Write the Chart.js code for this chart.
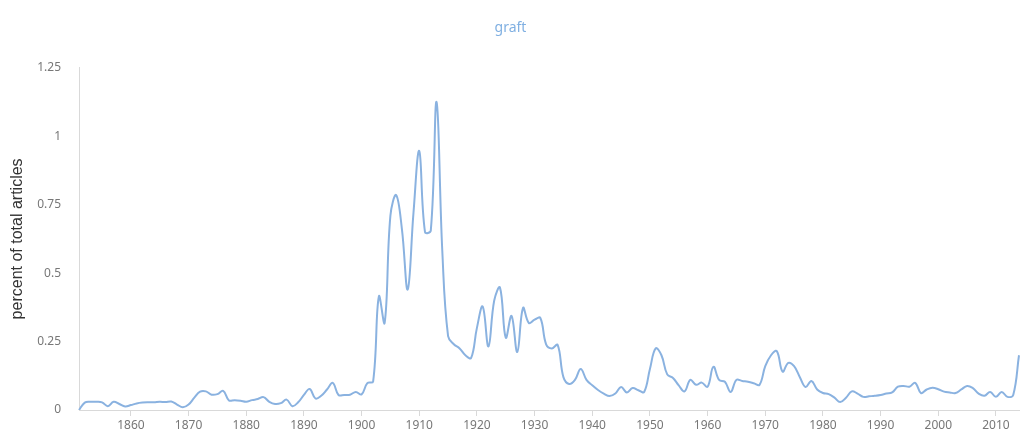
<!DOCTYPE html>
<html>
<head>
<meta charset="utf-8">
<script src="https://cdn.jsdelivr.net/npm/chart.js@4"></script>
<style>
  html, body { margin: 0; padding: 0; background: #fff; }
  #wrap { width: 1021px; height: 440px; }
</style>
</head>
<body>
<div id="wrap"><canvas id="chart"></canvas></div>
<script>
const firstYear = 1851;
const years = [];
for (let y = firstYear; y <= 2014; y++) years.push(y);

// percent of total articles, one value per year (1851-2014)
const graftValues = [
    0.000, 0.027, 0.030, 0.030, 0.028, 0.014, 0.030, 0.022, 0.013, 0.018,
    0.024, 0.027, 0.028, 0.028, 0.030, 0.029, 0.031, 0.020, 0.010, 0.020,
    0.045, 0.067, 0.068, 0.056, 0.058, 0.070, 0.035, 0.036, 0.034, 0.030,
    0.036, 0.040, 0.047, 0.030, 0.022, 0.025, 0.038, 0.014, 0.028, 0.055,
    0.077, 0.042, 0.052, 0.075, 0.099, 0.055, 0.055, 0.056, 0.066, 0.057,
    0.098, 0.104, 0.415, 0.318, 0.710, 0.785, 0.660, 0.440, 0.720, 0.946,
    0.650, 0.655, 1.125, 0.580, 0.270, 0.240, 0.225, 0.200, 0.190, 0.300,
    0.378, 0.232, 0.400, 0.447, 0.264, 0.344, 0.212, 0.373, 0.318, 0.330,
    0.336, 0.240, 0.225, 0.238, 0.120, 0.095, 0.110, 0.150, 0.110, 0.090,
    0.073, 0.060, 0.051, 0.060, 0.084, 0.064, 0.080, 0.072, 0.066, 0.150,
    0.225, 0.200, 0.130, 0.117, 0.090, 0.068, 0.110, 0.092, 0.100, 0.085,
    0.158, 0.110, 0.103, 0.066, 0.110, 0.106, 0.103, 0.098, 0.092, 0.160,
    0.200, 0.215, 0.140, 0.172, 0.160, 0.120, 0.084, 0.106, 0.075, 0.062,
    0.058, 0.045, 0.029, 0.045, 0.068, 0.060, 0.048, 0.050, 0.052, 0.055,
    0.060, 0.064, 0.085, 0.088, 0.085, 0.099, 0.062, 0.075, 0.081, 0.076,
    0.067, 0.064, 0.062, 0.075, 0.088, 0.080, 0.060, 0.052, 0.066, 0.048,
    0.066, 0.048, 0.055, 0.200
];

const yTicks = [0, 0.25, 0.5, 0.75, 1, 1.25];

const lineColor = 'rgb(138, 178, 224)';
const axisColor = '#d9d9d9';
const font = "'Noto Sans', 'DejaVu Sans', sans-serif";

Chart.defaults.font.family = font;
Chart.defaults.color = '#777';

const isDecade = (i) => years[i] % 10 === 0;

new Chart(document.getElementById('chart').getContext('2d'), {
    type: 'line',
    data: {
        labels: years,
        datasets: [{
            label: 'graft',
            data: graftValues,
            borderColor: lineColor,
            borderWidth: 2,
            pointRadius: 0,
            tension: 0.4,
            fill: false
        }]
    },
    options: {
        responsive: true,
        maintainAspectRatio: false,
        animation: false,
        layout: { padding: { left: 0, right: 0, top: 0, bottom: 0 } },
        plugins: {
            legend: { display: false },
            tooltip: { enabled: false },
            title: {
                display: true,
                text: 'graft',
                color: 'rgb(128, 176, 226)',
                font: { size: 14, weight: 'normal' },
                padding: { top: 20, bottom: 31 }
            }
        },
        scales: {
            x: {
                type: 'category',
                offset: false,
                border: { color: axisColor },
                grid: {
                    drawOnChartArea: false,
                    tickLength: 6,
                    color: (ctx) => (ctx.index !== undefined && isDecade(ctx.index)) ? axisColor : 'rgba(0,0,0,0)'
                },
                ticks: {
                    autoSkip: false,
                    maxRotation: 0,
                    padding: 2,
                    color: '#777',
                    font: { size: 12 },
                    callback: function(value, index) {
                        return isDecade(index) ? String(years[index]) : '';
                    }
                },
                afterFit: (scale) => { scale.height = 30; }
            },
            y: {
                min: 0,
                max: 1.25,
                border: { color: axisColor },
                grid: { drawOnChartArea: false, drawTicks: false },
                afterBuildTicks: (axis) => { axis.ticks = yTicks.map(v => ({ value: v })); },
                ticks: {
                    padding: 18,
                    color: '#777',
                    font: { size: 12 },
                    callback: (v) => String(v)
                },
                title: {
                    display: true,
                    text: 'percent of total articles',
                    color: '#333',
                    font: { family: "'Liberation Sans', Arial, sans-serif", size: 16 },
                    padding: { top: 8, bottom: 0 }
                },
                afterFit: (scale) => { scale.width = 79; }
            }
        }
    }
});
</script>
</body>
</html>
